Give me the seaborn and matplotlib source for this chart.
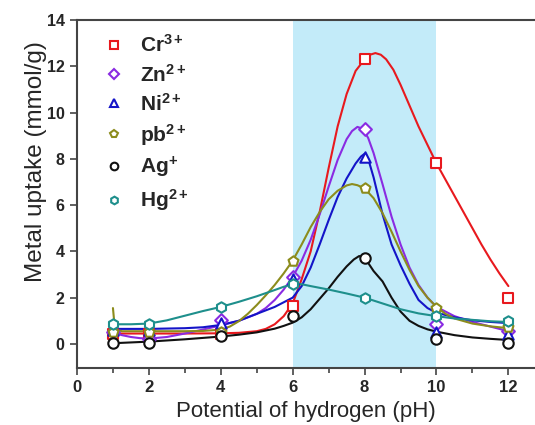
import matplotlib
matplotlib.use("Agg")
import matplotlib.pyplot as plt
from matplotlib.lines import Line2D
import seaborn as sns
import pandas as pd

# ---- measured points ----
ph = [1, 2, 4, 6, 8, 10, 12]
cr = [0.45, 0.45, 0.45, 1.65, 12.3, 7.8, 2.0]
zn = [0.5, 0.2, 1.05, 2.9, 9.3, 0.88, 0.55]
ni = [0.6, 0.6, 0.9, 2.8, 8.1, 0.5, 0.42]
pb = [0.5, 0.5, 0.5, 3.6, 6.73, 1.55, 0.72]
ag = [0.02, 0.04, 0.35, 1.22, 3.73, 0.2, 0.05]
hg = [0.85, 0.87, 1.6, 2.6, 2.0, 1.2, 1.0]

# ---- fitted curves ----
cr_fit_x = [1, 2, 3, 4, 4.5, 5.0, 5.25, 5.5, 5.75, 6.0, 6.25, 6.5, 6.75, 7.0, 7.25, 7.5, 7.75, 8.0, 8.15, 8.3,
            8.45, 8.6, 8.8, 9.0, 9.25, 9.5, 9.75, 10.0, 10.25, 10.5, 10.75, 11.0, 11.25, 11.5, 11.75, 12.0]
cr_fit_y = [0.45, 0.45, 0.45, 0.46, 0.48, 0.55, 0.65, 0.85, 1.2, 1.75, 2.8, 4.0, 5.7, 7.6, 9.4, 10.8, 11.8, 12.3, 12.5, 12.57,
            12.5, 12.3, 11.85, 11.2, 10.3, 9.4, 8.6, 7.8, 7.1, 6.4, 5.7, 5.0, 4.3, 3.65, 3.05, 2.5]
zn_fit_x = [1, 1.25, 1.5, 1.75, 2, 2.5, 3, 3.5, 4, 4.5, 5.0, 5.25, 5.5, 5.75, 6.0, 6.25, 6.5, 6.75, 7.0, 7.25, 7.5, 7.65,
            7.8, 7.95, 8.1, 8.25, 8.5, 8.75, 9.0, 9.25, 9.5, 9.75, 10.0, 10.5, 11.0, 11.5, 12.0]
zn_fit_y = [0.5, 0.38, 0.3, 0.25, 0.23, 0.3, 0.45, 0.62, 0.8, 1.0, 1.3, 1.55, 1.9, 2.35, 2.9, 3.6, 4.5, 5.6, 6.8, 7.95, 8.85, 9.2,
            9.38, 9.3, 8.9, 8.25, 6.9, 5.5, 4.3, 3.3, 2.55, 2.0, 1.6, 1.2, 0.95, 0.75, 0.55]
ni_fit_x = [1, 2, 3, 3.5, 4, 4.5, 5.0, 5.5, 6.0, 6.25, 6.5, 6.75, 7.0, 7.25, 7.5, 7.75, 7.9, 8.0, 8.1, 8.25, 8.5, 8.75,
            9.0, 9.25, 9.5, 9.75, 10.0, 10.5, 11.0, 11.5, 12.0]
ni_fit_y = [0.65, 0.65, 0.68, 0.72, 0.82, 1.0, 1.3, 1.6, 2.0, 2.5, 3.3, 4.3, 5.35, 6.35, 7.15, 7.8, 8.1, 8.22, 8.0, 7.2, 5.6, 4.3,
            3.4, 2.6, 1.9, 1.55, 1.35, 1.15, 1.02, 0.95, 0.9]
pb_fit_x = [1.0, 1.03, 1.07, 1.12, 1.25, 2, 3, 3.5, 4, 4.25, 4.5, 4.75, 5.0, 5.25, 5.5, 5.75, 6.0, 6.25, 6.5, 6.75, 7.0,
            7.25, 7.5, 7.65, 7.8, 8.0, 8.25, 8.5, 8.75, 9.0, 9.25, 9.5, 9.75, 10.0, 10.25, 10.5, 11.0, 11.5, 12.0]
pb_fit_y = [1.55, 1.05, 0.72, 0.6, 0.55, 0.55, 0.55, 0.56, 0.62, 0.75, 0.98, 1.3, 1.68, 2.1, 2.55, 3.05, 3.6, 4.3, 5.05, 5.7, 6.25,
            6.62, 6.85, 6.91, 6.86, 6.72, 6.3, 5.65, 4.85, 4.0, 3.2, 2.5, 2.0, 1.6, 1.3, 1.1, 0.88, 0.76, 0.68]
ag_fit_x = [1, 2, 3, 4, 4.5, 5.0, 5.5, 5.75, 6.0, 6.25, 6.5, 6.75, 7.0, 7.25, 7.5, 7.7, 7.85, 8.0, 8.1, 8.25, 8.5, 8.75,
            9.0, 9.25, 9.5, 9.75, 10.0, 10.5, 11.0, 11.5, 12.0]
ag_fit_y = [0.03, 0.1, 0.2, 0.32, 0.4, 0.5, 0.66, 0.78, 0.92, 1.15, 1.5, 1.95, 2.4, 2.9, 3.35, 3.65, 3.8, 3.72, 3.5, 3.15, 2.7, 2.0,
            1.4, 1.0, 0.78, 0.63, 0.53, 0.38, 0.28, 0.22, 0.17]
hg_fit_x = [1, 1.5, 2, 2.5, 3, 3.5, 4, 4.5, 5.0, 5.5, 5.75, 6.0, 6.25, 6.5, 7.0, 7.5, 8.0, 8.5, 9.0, 9.5, 10.0, 10.5, 11.0,
            11.5, 12.0]
hg_fit_y = [0.85, 0.85, 0.88, 1.02, 1.22, 1.42, 1.6, 1.82, 2.06, 2.33, 2.47, 2.58, 2.58, 2.5, 2.35, 2.18, 2.0, 1.75, 1.5, 1.32,
            1.2, 1.1, 1.04, 0.98, 0.95]

labels = [r"$\mathbf{Cr^{3+}}$", r"$\mathbf{Zn^{2+}}$", r"$\mathbf{Ni^{2+}}$",
          r"$\mathbf{pb^{2+}}$", r"$\mathbf{Ag^{+}}$", r"$\mathbf{Hg^{2+}}$"]
colors = ["#e8191e", "#8a2be2", "#1414c8", "#8c8c1c", "#111111", "#1e8f8c"]
markers = ["s", "D", "^", "p", "o", "h"]
msizes = [6.5, 6.5, 7.5, 7.5, 7.5, 7.5]

sns.set_style("ticks")
plt.rcParams["font.family"] = ["Liberation Sans", "DejaVu Sans"]
plt.rcParams["mathtext.fontset"] = "custom"
plt.rcParams["mathtext.rm"] = "Liberation Sans"
plt.rcParams["mathtext.bf"] = "Liberation Sans:bold"
plt.rcParams["mathtext.it"] = "Liberation Sans:italic"

fig = plt.figure(figsize=(5.35, 4.25), dpi=100)
ax = fig.add_axes([77 / 535, 1 - 368 / 425, (535 - 77) / 535, (368 - 20) / 425])

ax.axvspan(6, 10, color="#c3ebf9", lw=0, zorder=0)

series_pts = [cr, zn, ni, pb, ag, hg]
fits = [(cr_fit_x, cr_fit_y), (zn_fit_x, zn_fit_y), (ni_fit_x, ni_fit_y),
        (pb_fit_x, pb_fit_y), (ag_fit_x, ag_fit_y), (hg_fit_x, hg_fit_y)]

for (fx, fy), c in zip(fits, colors):
    sns.lineplot(x=fx, y=fy, sort=False, estimator=None, color=c, lw=1.5, ax=ax, zorder=2)

for vals, c, m, ms in zip(series_pts, colors, markers, msizes):
    df = pd.DataFrame({"pH": ph, "v": vals})
    sns.scatterplot(data=df, x="pH", y="v", marker=m, s=ms ** 2, color="white",
                    edgecolor=c, linewidth=1.5, ax=ax, zorder=3)

ax.set_xlim(0, 12.74)
ax.set_ylim(-1.04, 14)
ax.set_xticks(range(0, 13, 2))
ax.set_xticks(range(1, 13, 2), minor=True)
ax.set_yticks(range(0, 15, 2))
for lab in ax.get_xticklabels():
    lab.set_fontweight("bold")
    lab.set_fontsize(12)
for lab in ax.get_yticklabels():
    lab.set_fontweight("bold")
    lab.set_fontsize(11.5)
ax.tick_params(axis="both", which="major", direction="out", length=5, width=1.2, color="#444444", pad=4)
ax.tick_params(axis="x", which="minor", direction="out", length=3.5, width=1.2, color="#444444")

for side in ["left", "bottom", "top"]:
    ax.spines[side].set_color("#444444")
    ax.spines[side].set_linewidth(1.5)
ax.spines["right"].set_visible(False)

ax.set_xlabel("Potential of hydrogen (pH)", fontsize=16, labelpad=4)
ax.set_ylabel("Metal uptake (mmol/g)", fontsize=17.5)
ax.yaxis.set_label_coords(-0.066, (368 - 162) / 348)

handles = [Line2D([], [], ls="none", marker=m, markersize=5.5, mec=c, mfc="white", mew=1.5)
           for c, m in zip(colors, markers)]
ax.legend(handles, labels, loc="upper left", bbox_to_anchor=(0.02, 0.995), frameon=False,
          fontsize=15, handlelength=1.5, handletextpad=0.5, labelspacing=0.35, borderaxespad=0.2)

fig.savefig("out.png", dpi=100)
